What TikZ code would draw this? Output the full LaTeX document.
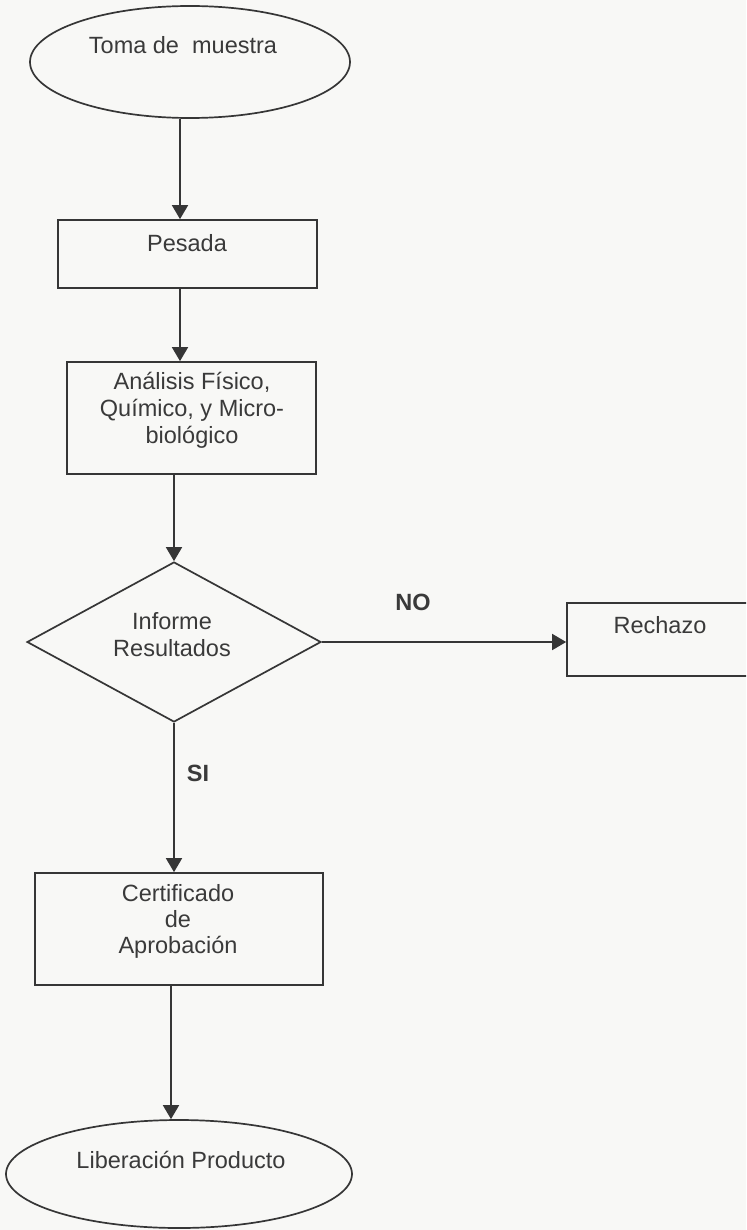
\documentclass[tikz,border=0pt]{standalone}
\usepackage{fontspec}
\setmainfont{Liberation Sans}
\usetikzlibrary{shapes.geometric,arrows.meta}

\definecolor{ink}{HTML}{363636}
\definecolor{txt}{HTML}{3A3A3A}
\definecolor{paper}{HTML}{F8F8F6}

\tikzset{
  shapeline/.style={draw=ink, line width=0.85pt, inner sep=0pt},
  terminal/.style={shapeline, ellipse},
  procbox/.style={shapeline, rectangle},
  decision/.style={shapeline, diamond},
  lbl/.style={text=txt, font=\fontsize{11.75}{13.5}\selectfont, align=center, inner sep=0pt},
  flag/.style={lbl, font=\fontsize{11.75}{13.5}\selectfont\bfseries},
  arr/.style={draw=ink, line width=0.85pt, -{Triangle[width=8pt,length=7pt]}}
}

\begin{document}
\begin{tikzpicture}[x=0.5pt, y=-0.5pt]
  % page and frame
  \fill[paper] (0,0) rectangle (746,1230);
  \useasboundingbox (0,0) rectangle (746,1230);
  \clip (0,0) rectangle (746,1230);

  % shapes
  \node[terminal, minimum width=160pt, minimum height=56pt] (toma) at (190,62) {};
  \node[procbox, minimum width=129.5pt, minimum height=34pt] (pesada) at (187.5,254) {};
  \node[procbox, minimum width=124.5pt, minimum height=56pt] (analisis) at (191.5,418) {};
  \node[decision, minimum width=147pt, minimum height=80pt] (dec) at (174,642) {};
  \node[procbox, minimum width=116pt, minimum height=36.5pt] (rechazo) at (683,639.5) {};
  \node[procbox, minimum width=144pt, minimum height=56pt] (cert) at (179,929) {};
  \node[terminal, minimum width=173pt, minimum height=54pt] (lib) at (179,1174) {};

  % texts
  \node[lbl] (tomaT) at (183,45) {Toma de\ \ muestra};
  \node[lbl] (pesadaT) at (187,243) {Pesada};
  \node[lbl] (analisisT) at (192,410) {Análisis Físico,\\Químico, y Micro-\\biológico};
  \node[lbl] (decT) at (172,635) {Informe\\Resultados};
  \node[lbl] (rechazoT) at (660,625) {Rechazo};
  \node[lbl, font=\fontsize{11.75}{13}\selectfont] (certT) at (178,921) {Certificado\\de\\Aprobación};
  \node[lbl] (libT) at (181,1160) {Liberación Producto};
  \node[flag] (noT) at (413,602) {NO};
  \node[flag] (siT) at (198,773) {SI};

  % arrow columns
  \coordinate (colA) at (180,0);
  \coordinate (colC) at (171,0);

  % connectors
  \draw[arr] (toma.south -| colA) -- (pesada.north -| colA);
  \draw[arr] (pesada.south -| colA) -- (analisis.north -| colA);
  \draw[arr] (analisis.south -| dec.north) -- (dec.north);
  \draw[arr] (dec.east) -- (dec.east -| rechazo.west);
  \draw[arr] (dec.south) -- (cert.north -| dec.south);
  \draw[arr] (cert.south -| colC) -- (lib.north -| colC);
\end{tikzpicture}
\end{document}
